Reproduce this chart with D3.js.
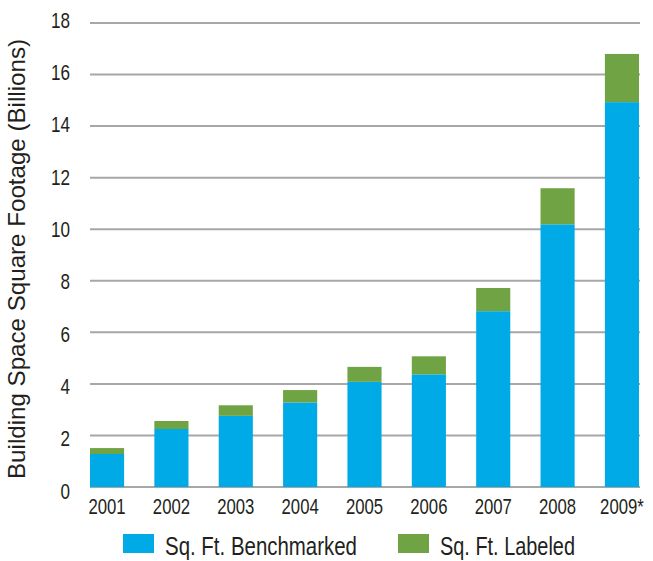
<!DOCTYPE html>
<html>
<head>
<meta charset="utf-8">
<script src="https://d3js.org/d3.v7.min.js"></script>
<style>
  body { margin: 0; background: #fff; }
  text { font-family: "Liberation Sans", Arial, sans-serif; fill: #231f20; }
</style>
</head>
<body>
<div id="chart"></div>
<script>
// chart data
const years = ["2001", "2002", "2003", "2004", "2005", "2006", "2007", "2008", "2009*"];
const benchmarked = [1.28, 2.25, 2.76, 3.28, 4.08, 4.37, 6.82, 10.19, 14.93];
const labeled = [0.23, 0.31, 0.41, 0.48, 0.58, 0.70, 0.90, 1.40, 1.87];
const yTicks = [0, 2, 4, 6, 8, 10, 12, 14, 16, 18];
const seriesNames = ["Sq. Ft. Benchmarked", "Sq. Ft. Labeled"];
const colors = ["#00aae7", "#70a343"];

const width = 653, height = 561;
const narrow = 0.76; // condensed look

const svg = d3.select("#chart").append("svg")
    .attr("width", width)
    .attr("height", height);

const x = d3.scaleBand().domain(years).range([90, 639]).paddingInner(0.47).paddingOuter(0);
const y = d3.scaleLinear().domain([0, 18]).range([487, 23]);
// labels sit on a slightly wider spacing than the gridlines
const yLab = d3.scaleLinear().domain([0, 18]).range([490.5, 19.5]);

// gridlines
svg.append("g")
    .selectAll("line")
    .data(yTicks)
    .enter()
    .append("line")
    .attr("x1", 90)
    .attr("x2", 640)
    .attr("y1", d => y(d))
    .attr("y2", d => y(d))
    .attr("stroke", "#a7a7a7")
    .attr("stroke-width", 2);

// y tick labels
svg.append("g")
    .selectAll("text")
    .data(yTicks)
    .enter()
    .append("text")
    .attr("transform", d => `translate(70,${yLab(d)}) scale(${narrow},1)`)
    .attr("dy", "0.36em")
    .attr("text-anchor", "end")
    .attr("font-size", 22.5)
    .text(d => d);

// stacked data
const rows = years.map((yr, i) => ({ year: yr, b: benchmarked[i], l: labeled[i] }));
const stack = d3.stack().keys(["b", "l"])(rows);

svg.append("g")
    .selectAll("g")
    .data(stack)
    .enter()
    .append("g")
    .attr("fill", (d, i) => colors[i])
    .selectAll("rect")
    .data(d => d)
    .enter()
    .append("rect")
    .attr("x", d => x(d.data.year))
    .attr("y", d => y(d[1]))
    .attr("width", x.bandwidth())
    .attr("height", d => y(d[0]) - y(d[1]));

// x labels
svg.append("g")
    .selectAll("text")
    .data(years)
    .enter()
    .append("text")
    .attr("transform", d => `translate(${x(d) + x.bandwidth() / 2},513.5) scale(${narrow},1)`)
    .attr("text-anchor", "middle")
    .attr("font-size", 22)
    .text(d => d);

// y axis title
svg.append("text")
    .attr("transform", "translate(25,259) rotate(-90)")
    .attr("text-anchor", "middle")
    .attr("font-size", 24)
    .attr("textLength", 440)
    .attr("lengthAdjust", "spacingAndGlyphs")
    .text("Building Space Square Footage (Billions)");

// legend
const legendX = [123, 398];
const legendW = [192, 135];
const legend = svg.append("g")
    .selectAll("g")
    .data(seriesNames)
    .enter()
    .append("g")
    .attr("transform", (d, i) => `translate(${legendX[i]},534)`);

legend.append("rect")
    .attr("width", 31)
    .attr("height", 19)
    .attr("fill", (d, i) => colors[i]);

legend.append("text")
    .attr("x", 42)
    .attr("y", 20.5)
    .attr("font-size", 26)
    .attr("textLength", (d, i) => legendW[i])
    .attr("lengthAdjust", "spacingAndGlyphs")
    .text(d => d);
</script>
</body>
</html>
